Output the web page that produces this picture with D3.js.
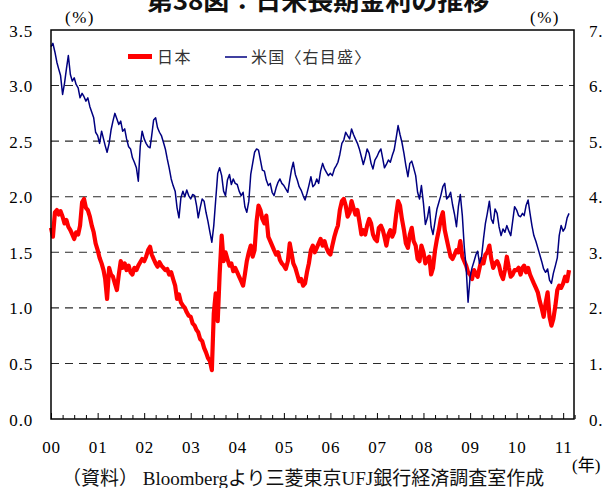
<!DOCTYPE html>
<html>
<head>
<meta charset="utf-8">
<script src="https://cdn.jsdelivr.net/npm/d3@7/dist/d3.min.js"></script>
<style>
  body { margin: 0; background: #fff; }
  svg { display: block; }
</style>
</head>
<body>
<svg id="chart" width="603" height="488"></svg>
<script>
// 10-year government bond yields, semi-monthly observations (1st and 16th), Jan 2000 - Feb 2011
const firstYear = 2000;

// Japan 10y JGB yield (%), left axis
const jgb10y = [
  1.72, 1.64, 1.86, 1.88, 1.84, 1.87, 1.82, 1.76, 1.79, 1.73, 1.70, 1.66, 1.62, 1.68, 1.66, 1.74, 1.95, 1.98, 1.90, 1.88, 1.82, 1.74, 1.68, 1.58,
  1.52, 1.45, 1.40, 1.34, 1.26, 1.08, 1.36, 1.30, 1.28, 1.22, 1.16, 1.30, 1.42, 1.36, 1.40, 1.34, 1.38, 1.32, 1.30, 1.36, 1.34, 1.38, 1.41, 1.44,
  1.42, 1.46, 1.52, 1.55, 1.48, 1.44, 1.40, 1.37, 1.41, 1.38, 1.36, 1.34, 1.35, 1.30, 1.32, 1.26, 1.20, 1.08, 1.12, 1.05, 1.02, 1.00, 0.96, 0.93,
  0.92, 0.86, 0.84, 0.80, 0.78, 0.72, 0.70, 0.64, 0.60, 0.55, 0.52, 0.44, 0.95, 1.13, 0.88, 1.30, 1.65, 1.42, 1.50, 1.44, 1.38, 1.40, 1.33, 1.36,
  1.32, 1.28, 1.24, 1.20, 1.30, 1.42, 1.50, 1.56, 1.46, 1.52, 1.78, 1.92, 1.88, 1.80, 1.76, 1.83, 1.64, 1.60, 1.56, 1.52, 1.48, 1.50, 1.43, 1.40,
  1.38, 1.35, 1.42, 1.58, 1.50, 1.40, 1.36, 1.30, 1.24, 1.26, 1.20, 1.22, 1.32, 1.40, 1.52, 1.56, 1.50, 1.54, 1.58, 1.62, 1.56, 1.60, 1.54, 1.50,
  1.48, 1.56, 1.64, 1.70, 1.74, 1.88, 1.96, 1.98, 1.92, 1.82, 1.86, 1.96, 1.90, 1.84, 1.88, 1.78, 1.66, 1.70, 1.66, 1.74, 1.80, 1.76, 1.66, 1.62,
  1.60, 1.72, 1.74, 1.70, 1.64, 1.56, 1.66, 1.70, 1.64, 1.68, 1.84, 1.96, 1.92, 1.80, 1.70, 1.58, 1.54, 1.66, 1.72, 1.60, 1.56, 1.44, 1.42, 1.56,
  1.50, 1.40, 1.44, 1.46, 1.30, 1.36, 1.52, 1.62, 1.70, 1.80, 1.86, 1.70, 1.62, 1.54, 1.46, 1.44, 1.48, 1.52, 1.50, 1.60, 1.46, 1.42, 1.38, 1.32,
  1.30, 1.26, 1.34, 1.30, 1.28, 1.36, 1.44, 1.40, 1.48, 1.50, 1.56, 1.44, 1.36, 1.40, 1.42, 1.38, 1.30, 1.26, 1.34, 1.46, 1.36, 1.28, 1.30, 1.34,
  1.34, 1.36, 1.30, 1.36, 1.38, 1.32, 1.36, 1.30, 1.26, 1.22, 1.18, 1.14, 1.06, 1.00, 0.92, 1.04, 1.14, 0.92, 0.84, 0.90, 1.02, 1.16, 1.20, 1.18,
  1.22, 1.28, 1.24, 1.34
];

// US 10y Treasury yield (%), right axis
const ust10y = [
  6.70, 6.76, 6.60, 6.42, 6.30, 6.18, 5.84, 6.04, 6.30, 6.54, 6.20, 6.08, 6.14, 6.02, 5.96, 5.78, 5.86, 5.80, 5.72, 5.78, 5.62, 5.52, 5.42, 5.16,
  5.10, 4.96, 5.18, 5.04, 4.92, 4.80, 4.96, 5.20, 5.36, 5.50, 5.40, 5.30, 5.36, 5.18, 5.22, 5.04, 4.90, 4.86, 4.70, 4.62, 4.52, 4.28, 4.90, 5.18,
  5.04, 4.96, 4.90, 4.88, 5.10, 5.38, 5.42, 5.24, 5.16, 5.10, 4.98, 4.86, 4.68, 4.52, 4.32, 4.20, 4.10, 3.80, 3.62, 3.98, 4.10, 4.00, 4.12, 4.02,
  3.96, 4.04, 4.02, 3.84, 3.62, 3.80, 3.96, 3.92, 3.72, 3.56, 3.36, 3.18, 3.48, 3.94, 4.42, 4.52, 4.38, 4.10, 4.02, 4.30, 4.40, 4.22, 4.32, 4.24,
  4.22, 4.10, 4.02, 4.08, 3.82, 3.72, 3.92, 4.40, 4.60, 4.80, 4.86, 4.84, 4.66, 4.48, 4.46, 4.30, 4.20, 4.24, 4.08, 4.02, 4.16, 4.26, 4.32, 4.24,
  4.20, 4.14, 4.08, 4.30, 4.48, 4.62, 4.40, 4.30, 4.18, 4.12, 4.02, 3.94, 4.06, 4.20, 4.36, 4.18, 4.22, 4.32, 4.24, 4.46, 4.60, 4.50, 4.44, 4.38,
  4.42, 4.38, 4.50, 4.56, 4.62, 4.76, 4.96, 5.02, 5.16, 5.10, 5.04, 5.22, 5.12, 5.04, 4.96, 4.86, 4.72, 4.58, 4.70, 4.86, 4.78, 4.60, 4.50, 4.66,
  4.72, 4.80, 4.86, 4.68, 4.52, 4.58, 4.66, 4.62, 4.74, 4.84, 5.06, 5.28, 5.12, 4.98, 4.78, 4.56, 4.36, 4.60, 4.64, 4.52, 4.38, 4.08, 3.96, 4.20,
  3.88, 3.50, 3.62, 3.82, 3.46, 3.32, 3.56, 3.78, 3.90, 4.02, 4.18, 4.24, 3.96, 4.00, 4.08, 3.86, 3.68, 3.46, 3.82, 4.04, 3.66, 3.10, 2.72, 2.10,
  2.56, 2.72, 2.84, 2.96, 3.02, 2.80, 2.92, 3.24, 3.52, 3.70, 3.92, 3.60, 3.52, 3.78, 3.70, 3.46, 3.30, 3.42, 3.36, 3.48, 3.38, 3.30, 3.56, 3.82,
  3.76, 3.66, 3.64, 3.70, 3.66, 3.84, 3.94, 3.70, 3.48, 3.30, 3.20, 3.08, 2.96, 2.84, 2.70, 2.64, 2.70, 2.50, 2.44, 2.62, 2.76, 2.90, 3.30, 3.48,
  3.38, 3.44, 3.62, 3.70
];

const leftTicks = [0, 0.5, 1.0, 1.5, 2.0, 2.5, 3.0, 3.5];
const rightTicks = [0, 1, 2, 3, 4, 5, 6, 7];
const yearLabels = ["00", "01", "02", "03", "04", "05", "06", "07", "08", "09", "10", "11"];
const seriesNames = ["日本", "米国〈右目盛〉"];
const titleText = "第38図：日米長期金利の推移";
const sourceText = "（資料） Bloombergより三菱東京UFJ銀行経済調査室作成";

// observation dates: 1st and 16th of every month
const dates = [];
for (let i = 0; i < jgb10y.length; i++) {
  dates.push(new Date(firstYear + Math.floor(i / 24), Math.floor((i % 24) / 2), i % 2 === 0 ? 1 : 16));
}
const jpData = jgb10y.map((v, i) => ({ date: dates[i], v }));
const usData = ust10y.map((v, i) => ({ date: dates[i], v }));

const serif = "'Liberation Serif', 'Times New Roman', 'Noto Sans CJK JP', serif";
const gothic = "'Noto Sans CJK JP', 'Noto Sans', sans-serif";

const svg = d3.select("#chart");
const plot = { left: 51, right: 574, top: 30, bottom: 419 };

const x = d3.scaleTime()
  .domain([new Date(2000, 0, 1), new Date(2011, 2, 27)])
  .range([plot.left, plot.right]);
const yL = d3.scaleLinear().domain([0, 3.5]).range([plot.bottom, plot.top]);
const yR = d3.scaleLinear().domain([0, 7]).range([plot.bottom, plot.top]);

// title (partly above the page edge)
svg.append("text")
  .attr("x", 318).attr("y", 10)
  .attr("text-anchor", "middle")
  .attr("font-family", gothic)
  .attr("font-weight", "bold")
  .attr("font-size", 26)
  .attr("fill", "#111")
  .text(titleText);

// unit labels
svg.append("text").attr("x", 80).attr("y", 23).attr("text-anchor", "middle")
  .attr("font-family", serif).attr("font-size", 17).attr("letter-spacing", 1.5).text("(%)");
svg.append("text").attr("x", 545).attr("y", 23).attr("text-anchor", "middle")
  .attr("font-family", serif).attr("font-size", 17).attr("letter-spacing", 1.5).text("(%)");

// dashed horizontal gridlines
svg.append("g")
  .selectAll("line")
  .data(leftTicks.filter(v => v > 0 && v < 3.5))
  .join("line")
  .attr("x1", plot.left).attr("x2", plot.right)
  .attr("y1", d => yL(d)).attr("y2", d => yL(d))
  .attr("stroke", "#2a2a2a")
  .attr("stroke-width", 1.1)
  .attr("stroke-dasharray", "8,6");

// series lines
const lineJP = d3.line().x(d => x(d.date)).y(d => yL(d.v));
const lineUS = d3.line().x(d => x(d.date)).y(d => yR(d.v));

svg.append("path").datum(jpData)
  .attr("d", lineJP)
  .attr("fill", "none")
  .attr("stroke", "#ff0000")
  .attr("stroke-width", 4.2)
  .attr("stroke-linejoin", "round");

svg.append("path").datum(usData)
  .attr("d", lineUS)
  .attr("fill", "none")
  .attr("stroke", "#000080")
  .attr("stroke-width", 1.5)
  .attr("stroke-linejoin", "round");

// plot frame
svg.append("rect")
  .attr("x", plot.left).attr("y", plot.top)
  .attr("width", plot.right - plot.left).attr("height", plot.bottom - plot.top)
  .attr("fill", "none").attr("stroke", "#000").attr("stroke-width", 1.5);

// quarterly ticks (inward), longer at year starts
const quarters = d3.timeMonth.every(3).range(new Date(2000, 0, 1), new Date(2011, 3, 2));
svg.append("g")
  .attr("transform", `translate(0,${plot.bottom})`)
  .call(d3.axisBottom(x).tickValues(quarters).tickSizeInner(-4).tickSizeOuter(0).tickFormat(""))
  .call(g => g.select(".domain").remove())
  .call(g => g.selectAll(".tick line")
    .attr("y2", d => d.getMonth() === 0 ? -6 : -4)
    .attr("stroke", "#000"));

// year labels
const yearDates = yearLabels.map((_, i) => new Date(firstYear + i, 0, 1));
svg.append("g")
  .attr("transform", `translate(0,${plot.bottom})`)
  .call(d3.axisBottom(x).tickValues(yearDates).tickSize(0).tickPadding(22)
    .tickFormat((d, i) => yearLabels[i]))
  .call(g => g.select(".domain").remove())
  .call(g => g.selectAll("text")
    .attr("font-family", serif).attr("font-size", 17).attr("fill", "#000")
    .attr("letter-spacing", 0.8));

// left axis labels
svg.append("g")
  .attr("transform", `translate(${plot.left},0)`)
  .call(d3.axisLeft(yL).tickValues(leftTicks).tickSize(0).tickPadding(18).tickFormat(d3.format(".1f")))
  .call(g => g.select(".domain").remove())
  .call(g => g.selectAll("text")
    .attr("dy", "0.36em")
    .attr("font-family", serif).attr("font-size", 17).attr("fill", "#000")
    .attr("letter-spacing", 0.8));

// right axis labels
svg.append("g")
  .attr("transform", `translate(${plot.right},0)`)
  .call(d3.axisRight(yR).tickValues(rightTicks).tickSize(0).tickPadding(15).tickFormat(d3.format(".1f")))
  .call(g => g.select(".domain").remove())
  .call(g => g.selectAll("text")
    .attr("dy", "0.36em")
    .attr("font-family", serif).attr("font-size", 17).attr("fill", "#000")
    .attr("letter-spacing", 0.8));

// legend
const legend = svg.append("g");
legend.append("line").attr("x1", 128).attr("x2", 152).attr("y1", 56.5).attr("y2", 56.5)
  .attr("stroke", "#ff0000").attr("stroke-width", 5);
legend.append("text").attr("x", 157).attr("y", 62.5)
  .attr("font-family", gothic).attr("font-size", 16).attr("letter-spacing", 1.5)
  .attr("fill", "#333").text(seriesNames[0]);
legend.append("line").attr("x1", 225).attr("x2", 247).attr("y1", 57).attr("y2", 57)
  .attr("stroke", "#000080").attr("stroke-width", 1.5);
legend.append("text").attr("x", 251).attr("y", 62.5)
  .attr("font-family", gothic).attr("font-size", 16).attr("letter-spacing", 1.2)
  .attr("fill", "#333").text(seriesNames[1]);

// year unit and source note
svg.append("text").attr("x", 572).attr("y", 471)
  .attr("font-family", serif).attr("font-size", 17).text("(年)");
svg.append("text").attr("x", 62).attr("y", 485)
  .attr("font-family", serif).attr("font-size", 19).attr("fill", "#111").text(sourceText);
</script>
</body>
</html>
